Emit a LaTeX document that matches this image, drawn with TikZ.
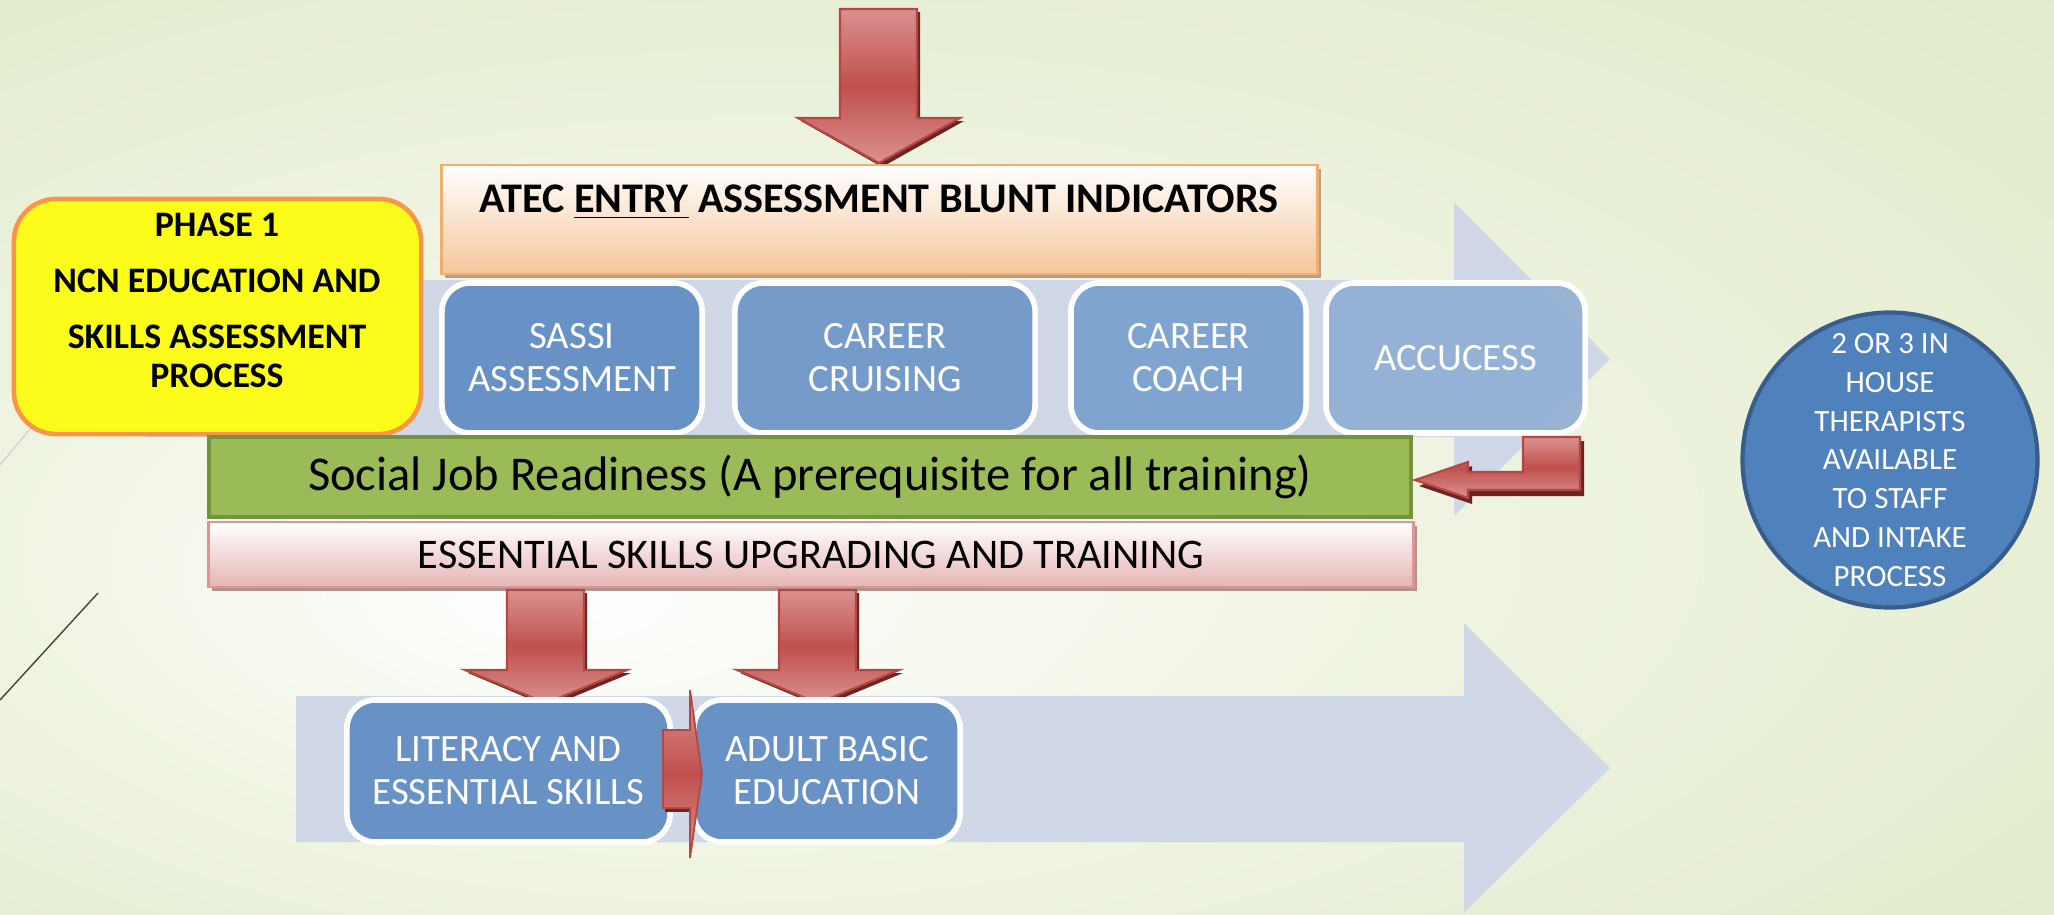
\documentclass[tikz,border=0pt]{standalone}
\usepackage{fontspec}
\setmainfont{Carlito}
\usetikzlibrary{positioning,shadows}

\definecolor{bggreen}{RGB}{218,230,190}
\definecolor{bgmid}{RGB}{240,245,228}
\definecolor{band}{RGB}{208,216,232}
\definecolor{boxA}{RGB}{104,146,198}
\definecolor{boxB}{RGB}{116,155,202}
\definecolor{boxC}{RGB}{128,164,208}
\definecolor{boxD}{RGB}{143,173,212}
\definecolor{phaseyellow}{RGB}{252,252,26}
\definecolor{phaseedge}{RGB}{247,150,70}
\definecolor{atecorange}{RGB}{245,198,155}
\definecolor{atecedge}{RGB}{240,175,110}
\definecolor{atecshade}{RGB}{180,160,135}
\definecolor{readygreen}{RGB}{155,187,89}
\definecolor{readyedge}{RGB}{118,146,60}
\definecolor{skillpink}{RGB}{230,180,180}
\definecolor{skilledge}{RGB}{217,150,148}
\definecolor{skillshade}{RGB}{180,145,145}
\definecolor{arrowlight}{RGB}{218,145,143}
\definecolor{arrowred}{RGB}{192,80,77}
\definecolor{arrowedge}{RGB}{180,70,67}
\definecolor{arrowdark}{RGB}{110,35,33}
\definecolor{therapyblue}{RGB}{79,129,189}
\definecolor{therapyedge}{RGB}{56,93,138}

\pgfdeclareradialshading{slidebg}{\pgfpoint{-12bp}{-8bp}}{color(0bp)=(white); color(16bp)=(bgmid); color(50bp)=(bggreen)}

\newcommand\dnarrow[4]{%
  \fill[arrowdark] (#1-34,#2+3) -- (#1+41,#2+3) -- (#1+41,#3+3) -- (#1+85,#3+3)
    -- (#1+3,#4+4) -- (#1-78,#3+3) -- (#1-34,#3+3) -- cycle;
  \shadedraw[top color=arrowlight, bottom color=arrowlight, middle color=arrowred,
    draw=arrowedge, line width=.6pt]
    (#1-39,#2) -- (#1+38,#2) -- (#1+38,#3) -- (#1+81,#3) -- (#1,#4)
    -- (#1-81,#3) -- (#1-39,#3) -- cycle;}

\begin{document}
\begin{tikzpicture}[x=0.01cm,y=-0.01cm,
  stepbox/.style={draw=white, line width=1.6pt, rounded corners=8pt,
    text=white, align=center, inner sep=0pt,
    font=\fontsize{11}{12.2}\selectfont},
  barshadow/.style={drop shadow={shadow xshift=1pt, shadow yshift=-1.2pt,
    fill=#1, opacity=1}}]
\useasboundingbox (0,0) rectangle (2054,914);
\shade[shading=slidebg] (0,0) rectangle (2054,914);
\draw[black!20, line width=.3pt] (200,225) -- (0,465);
\draw[black!65!olive, line width=.4pt] (98,593) -- (0,700);

\fill[band] (146,280) -- (1454,280) -- (1454,202) -- (1610,359)
  -- (1454,516) -- (1454,437) -- (146,437) -- cycle;
\fill[band] (296,696) -- (1464,696) -- (1464,623) -- (1610,768)
  -- (1464,913) -- (1464,842) -- (296,842) -- cycle;

\dnarrow{879}{9}{118}{163}

\node[draw=atecedge, line width=.8pt, top color=white, bottom color=atecorange,
  minimum width=8.75cm, minimum height=1.09cm, barshadow=atecshade]
  (atec) at (879.5,219.5) {};
\node[font=\bfseries\fontsize{12}{14}\selectfont] (atectxt) at (879,202)
  {ATEC \underline{ENTRY} ASSESSMENT BLUNT INDICATORS};

\node[draw=phaseedge, line width=1.3pt, fill=phaseyellow, rounded corners=12pt,
  minimum width=4.07cm, minimum height=2.35cm] (phase) at (217.5,316.5) {};
\node[font=\bfseries\fontsize{10.2}{11}\selectfont, align=center] (phasetxt)
  at (217,300) {PHASE 1\\[5pt]NCN EDUCATION AND\\[5pt]SKILLS ASSESSMENT\\PROCESS};

\node[stepbox, fill=boxA, minimum width=2.6cm, minimum height=1.5cm]
  (sassi) at (572,358) {SASSI\\ASSESSMENT};
\node[stepbox, fill=boxB, minimum width=3cm, minimum height=1.5cm]
  (cruising) at (885,358) {CAREER\\CRUISING};
\node[stepbox, fill=boxC, minimum width=2.35cm, minimum height=1.5cm]
  (coach) at (1188.5,358) {CAREER\\COACH};
\node[stepbox, fill=boxD, fill opacity=.9, text opacity=1, minimum width=2.59cm,
  minimum height=1.5cm] (accucess) at (1455.5,358) {ACCUCESS};

\node[draw=readyedge, line width=1.2pt, fill=readygreen, minimum width=12.02cm,
  minimum height=.8cm, font=\fontsize{13.8}{15}\selectfont]
  (ready) at (810,477) {Social Job Readiness (A prerequisite for all training)};

% return arrow into the readiness bar
\fill[arrowdark] (1527,441) -- (1584,441) -- (1584,496) -- (1472,496) -- (1472,504)
  -- (1419,486) -- (1472,466) -- (1472,476) -- (1527,476) -- cycle;
\shadedraw[top color=arrowlight, bottom color=arrowlight, middle color=arrowred,
  draw=arrowedge, line width=.6pt] (1523,437) -- (1580,437) -- (1580,490)
  -- (1468,490) -- (1468,498) -- (1415,480) -- (1468,462) -- (1468,472)
  -- (1523,472) -- cycle;

\node[draw=skilledge, line width=.8pt, top color=white, bottom color=skillpink,
  minimum width=12.04cm, minimum height=.65cm, barshadow=skillshade,
  font=\fontsize{12}{14}\selectfont]
  (upgrade) at (811,554.5) {ESSENTIAL SKILLS UPGRADING AND TRAINING};

\dnarrow{546}{590}{670}{703}
\dnarrow{818}{590}{670}{703}

\node[stepbox, fill=boxA, minimum width=3.23cm, minimum height=1.42cm]
  (literacy) at (508.5,771) {LITERACY AND\\ESSENTIAL SKILLS};
\node[stepbox, fill=boxA, minimum width=2.66cm, minimum height=1.42cm]
  (adult) at (827,771) {ADULT BASIC\\EDUCATION};

\fill[arrowdark] (665,734) -- (692,734) -- (692,812) -- (665,812) -- cycle;
\shadedraw[top color=arrowlight, bottom color=arrowlight, middle color=arrowred,
  draw=arrowedge, line width=.5pt] (663,730) -- (690,730) -- (690,690)
  -- (702,774) -- (690,858) -- (690,808) -- (663,808) -- cycle;

\node[circle, draw=therapyedge, line width=1.2pt, fill=therapyblue,
  minimum size=2.93cm, inner sep=0pt, text=white, align=center,
  font=\fontsize{8.8}{11}\selectfont] (therapy) at (1890,460)
  {2 OR 3 IN\\HOUSE\\THERAPISTS\\AVAILABLE\\TO STAFF\\AND INTAKE\\PROCESS};
\end{tikzpicture}
\end{document}
